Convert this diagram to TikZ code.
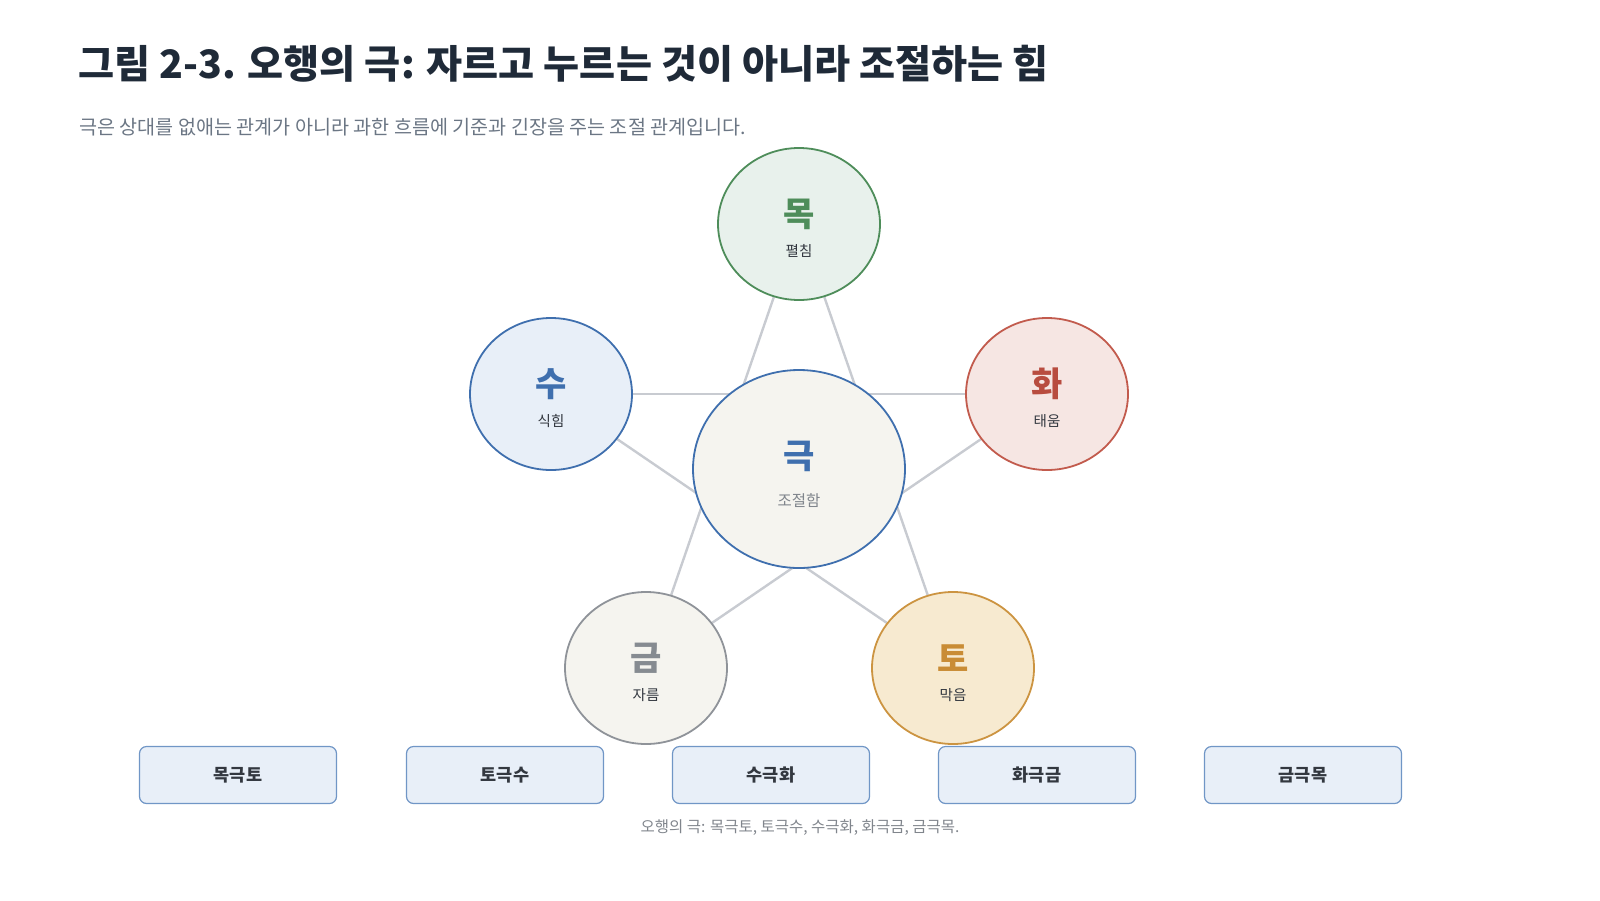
\documentclass[tikz,border=0pt]{standalone}
\usepackage{fontspec}
\setmainfont{Noto Sans CJK KR}
\usetikzlibrary{shapes.geometric}
\pgfdeclarelayer{bg}
\pgfsetlayers{bg,main}
\definecolor{titlec}{HTML}{1F2A38}
\definecolor{subc}{HTML}{6B7684}
\definecolor{linec}{HTML}{C8CBD1}
\definecolor{darkt}{HTML}{333840}
\definecolor{grayt}{HTML}{80858C}
\definecolor{mokS}{HTML}{4E8D5A}
\definecolor{mokF}{HTML}{E8F1EC}
\definecolor{suS}{HTML}{3F6FAE}
\definecolor{suF}{HTML}{E8EFF8}
\definecolor{hwaS}{HTML}{C25B4D}
\definecolor{hwaF}{HTML}{F6E6E3}
\definecolor{hwaT}{HTML}{B84C3F}
\definecolor{geumS}{HTML}{8F9399}
\definecolor{geumF}{HTML}{F5F4EF}
\definecolor{geumT}{HTML}{868B91}
\definecolor{toS}{HTML}{CC9441}
\definecolor{toF}{HTML}{F7EAD0}
\definecolor{toT}{HTML}{C98C35}
\definecolor{boxS}{HTML}{7096C6}
\definecolor{boxF}{HTML}{E8EFF8}
\begin{document}
\begin{tikzpicture}[x=1pt,y=-1pt,
  el/.style={ellipse, draw, line width=1.8pt, minimum width=162pt, minimum height=152pt, inner sep=0pt},
  bigt/.style={font=\fontsize{34}{38}\selectfont\bfseries, inner sep=0pt},
  smallt/.style={font=\fontsize{14.5}{16}\selectfont, text=darkt, inner sep=0pt},
  conn/.style={draw=linec, line width=2.4pt},
  relbox/.style={draw=boxS, fill=boxF, line width=1.2pt, rounded corners=7pt, minimum width=197pt, minimum height=57pt, inner sep=0pt, font=\fontsize{17.5}{20}\selectfont\bfseries, text=darkt}]
\useasboundingbox (0,0) rectangle (1600,900);

\node[anchor=west, inner sep=0pt, font=\fontsize{39.2}{42}\selectfont\bfseries, text=titlec] (title) at (78,64) {그림 2-3. 오행의 극: 자르고 누르는 것이 아니라 조절하는 힘};
\node[anchor=west, inner sep=0pt, font=\fontsize{19.6}{22}\selectfont, text=subc] (subtitle) at (79,127) {극은 상대를 없애는 관계가 아니라 과한 흐름에 기준과 긴장을 주는 조절 관계입니다.};

% circles
\node[el, draw=mokS, fill=mokF] (mok) at (799,224) {};
\node[el, draw=suS, fill=suF] (su) at (551,394) {};
\node[el, draw=hwaS, fill=hwaF] (hwa) at (1047,394) {};
\node[el, draw=geumS, fill=geumF] (geum) at (646,668) {};
\node[el, draw=toS, fill=toF] (to) at (953,668) {};
\node[el, draw=suS, fill=geumF, minimum width=212pt, minimum height=198pt] (geuk) at (799,469) {};

% pentagram connectors
\begin{pgfonlayer}{bg}
\draw[conn] (mok) -- (geum);
\draw[conn] (mok) -- (to);
\draw[conn] (su) -- (hwa);
\draw[conn] (su) -- (to);
\draw[conn] (hwa) -- (geum);
\end{pgfonlayer}

% labels
\node[bigt, text=mokS] (mokt) at (799,214) {목};
\node[smallt] (moks) at (799,251) {펼침};
\node[bigt, text=suS] (sut) at (551,384) {수};
\node[smallt] (sus) at (551,421) {식힘};
\node[bigt, text=hwaT] (hwat) at (1047,384) {화};
\node[smallt] (hwas) at (1047,421) {태움};
\node[bigt, text=geumT] (geumt) at (646,658) {금};
\node[smallt] (geums) at (646,695) {자름};
\node[bigt, text=toT] (tot) at (953,658) {토};
\node[smallt] (tos) at (953,695) {막음};
\node[bigt, text=suS] (geukt) at (799,456) {극};
\node[smallt, text=grayt, font=\fontsize{15.5}{18}\selectfont] (geuks) at (799,501) {조절함};

% relation boxes
\node[relbox] (b1) at (238,775) {목극토};
\node[relbox] (b2) at (505,775) {토극수};
\node[relbox] (b3) at (771,775) {수극화};
\node[relbox] (b4) at (1037,775) {화극금};
\node[relbox] (b5) at (1303,775) {금극목};

\node[inner sep=0pt, font=\fontsize{15.5}{17}\selectfont, text=grayt] (caption) at (800,828) {오행의 극: 목극토, 토극수, 수극화, 화극금, 금극목.};
\end{tikzpicture}
\end{document}
